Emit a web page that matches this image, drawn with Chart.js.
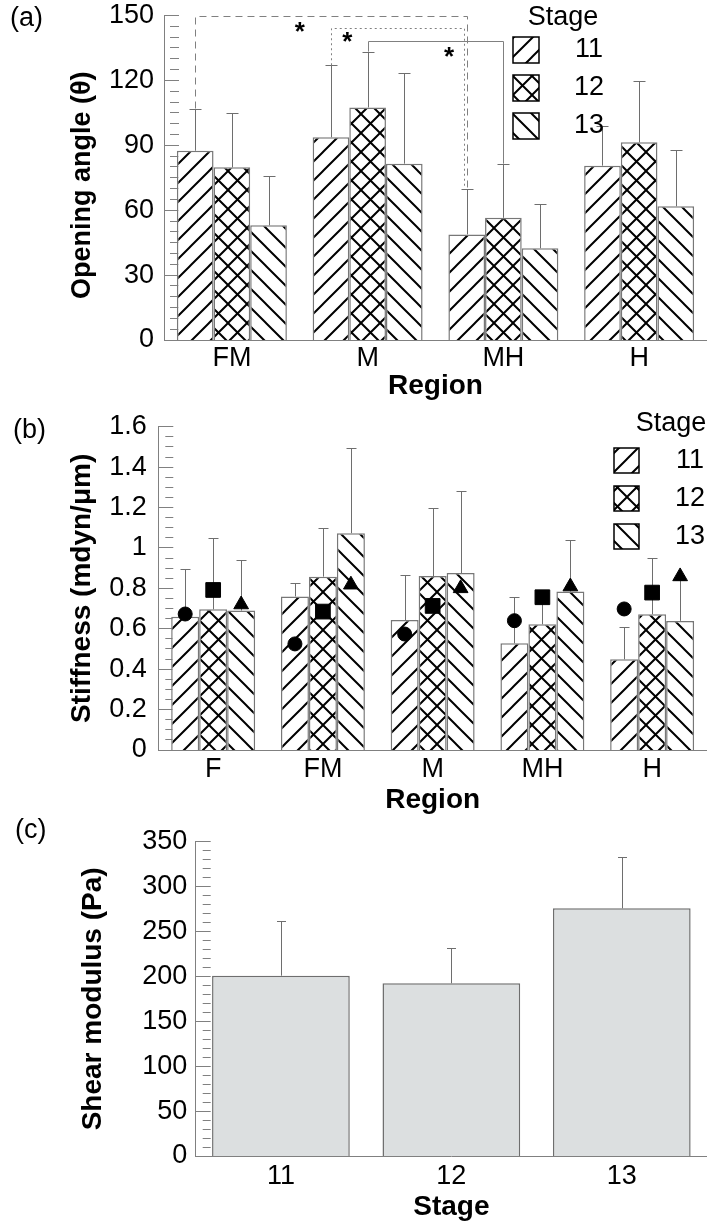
<!DOCTYPE html>
<html>
<head>
<meta charset="utf-8">
<script src="https://cdn.jsdelivr.net/npm/chart.js@4.4.1/dist/chart.umd.min.js"></script>
<style>
  html, body { margin: 0; padding: 0; background: #fff; }
  body { width: 707px; height: 1227px; position: relative; overflow: hidden; }
  canvas { position: absolute; left: 0; }
</style>
</head>
<body>
<canvas id="angle" width="707" height="402" style="top:0"></canvas>
<canvas id="stiffness" width="707" height="412" style="top:402px"></canvas>
<canvas id="shear" width="707" height="413" style="top:814px"></canvas>
<script>
const FONT = '"Liberation Sans", Arial, Helvetica, sans-serif';
const AXIS = '#808080';
const BAR_EDGE = '#777';

const stages = ['11', '12', '13'];

// (a) opening angle, mean and SD per region
const angleRegions = ['FM', 'M', 'MH', 'H'];
const angleMean11 = [87.5, 93.7, 48.8, 80.6];
const angleMean12 = [79.8, 107.5, 56.5, 91.4];
const angleMean13 = [53, 81.5, 42.4, 61.8];
const angleSd11 = [19.5, 33.3, 21.2, 18.4];
const angleSd12 = [25, 25.8, 25, 28.5];
const angleSd13 = [23, 41.9, 20.3, 26.2];

// (b) stiffness, mean and SD per region, plus the filled markers
const stiffRegions = ['F', 'FM', 'M', 'MH', 'H'];
const stiffMean11 = [0.66, 0.76, 0.643, 0.528, 0.449];
const stiffMean12 = [0.696, 0.858, 0.861, 0.622, 0.672];
const stiffMean13 = [0.69, 1.073, 0.876, 0.784, 0.639];
const stiffSd11 = [0.234, 0.068, 0.223, 0.231, 0.161];
const stiffSd12 = [0.352, 0.239, 0.335, 0.138, 0.277];
const stiffSd13 = [0.25, 0.42, 0.408, 0.257, 0.2];
const stiffMarker11 = [0.673, 0.525, 0.574, 0.64, 0.698];
const stiffMarker12 = [0.792, 0.685, 0.713, 0.756, 0.779];
const stiffMarker13 = [0.72, 0.818, 0.8, 0.809, 0.859];

// (c) shear modulus per stage
const shearMean = [200.8, 192.3, 275.8];
const shearSd = [61.2, 39, 56.8];

Chart.defaults.font.family = FONT;
Chart.defaults.color = '#000';
Chart.defaults.animation = false;
Chart.defaults.plugins.legend.display = false;
Chart.defaults.plugins.tooltip.enabled = false;

function hatch(ctx, kind) {
  const size = 19;
  const tile = document.createElement('canvas');
  tile.width = tile.height = size;
  const c = tile.getContext('2d');
  c.fillStyle = '#fff';
  c.fillRect(0, 0, size, size);
  c.strokeStyle = '#000';
  c.lineWidth = 2;
  c.beginPath();
  if (kind !== 'back') {
    c.moveTo(-2, size + 2); c.lineTo(size + 2, -2);
    c.moveTo(-2, 2); c.lineTo(2, -2);
    c.moveTo(size - 2, size + 2); c.lineTo(size + 2, size - 2);
  }
  if (kind !== 'fwd') {
    c.moveTo(-2, -2); c.lineTo(size + 2, size + 2);
    c.moveTo(-2, size - 2); c.lineTo(2, size + 2);
    c.moveTo(size - 2, -2); c.lineTo(size + 2, 2);
  }
  c.stroke();
  return ctx.createPattern(tile, 'repeat');
}

const errorBars = {
  id: 'errorBars',
  afterDatasetDraw(chart, args, opts) {
    const ds = chart.data.datasets[args.index];
    if (!ds.sd) return;
    const { ctx } = chart;
    const y = chart.scales.y;
    ctx.save();
    ctx.strokeStyle = opts.color;
    ctx.lineWidth = 1;
    args.meta.data.forEach((bar, i) => {
      const top = Math.round(y.getPixelForValue(ds.data[i] + ds.sd[i])) + 0.5;
      const x = Math.round(bar.x) + 0.5;
      ctx.beginPath();
      ctx.moveTo(x, bar.y);
      ctx.lineTo(x, top);
      ctx.moveTo(x - opts.cap / 2, top);
      ctx.lineTo(x + opts.cap / 2, top);
      ctx.stroke();
    });
    ctx.restore();
  }
};

// filled markers sitting on each bar's centre line
const barMarkers = {
  id: 'barMarkers',
  afterDatasetsDraw(chart) {
    const { ctx } = chart;
    const y = chart.scales.y;
    chart.data.datasets.forEach((ds, s) => {
      if (!ds.marker) return;
      const bars = chart.getDatasetMeta(s).data;
      ctx.save();
      ctx.fillStyle = '#000';
      ctx.strokeStyle = '#000';
      ds.marker.forEach((v, i) => {
        Chart.helpers.drawPoint(ctx, {
          pointStyle: ds.markerStyle,
          radius: ds.markerRadius,
          rotation: 0,
          borderWidth: 1
        }, bars[i].x, y.getPixelForValue(v));
      });
      ctx.restore();
    });
  }
};

const stageLegend = {
  id: 'stageLegend',
  afterDraw(chart, args, o) {
    if (!o.left) return;
    const { ctx } = chart;
    ctx.save();
    ctx.font = '27px ' + FONT;
    ctx.textAlign = 'center';
    ctx.textBaseline = 'middle';
    ctx.fillStyle = '#000';
    ctx.fillText('Stage', o.titleX, o.titleY);
    chart.data.datasets.forEach((ds, i) => {
      const top = o.top + i * o.step;
      ctx.fillStyle = ds.backgroundColor;
      ctx.fillRect(o.left, top, o.box, o.box);
      ctx.strokeStyle = '#000';
      ctx.lineWidth = 1.5;
      ctx.strokeRect(o.left, top, o.box, o.box);
      ctx.fillStyle = '#000';
      ctx.fillText(ds.label, o.labelX, top + o.box / 2);
    });
    ctx.restore();
  }
};

const panelTag = {
  id: 'panelTag',
  afterDraw(chart, args, o) {
    if (!o.text) return;
    const { ctx } = chart;
    ctx.save();
    ctx.font = '27px ' + FONT;
    ctx.fillStyle = '#000';
    ctx.textAlign = 'left';
    ctx.textBaseline = 'middle';
    ctx.fillText(o.text, o.x, o.y);
    ctx.restore();
  }
};

// labelled value axis plus an inner, label-less axis that only carries
// the inward major/minor tick marks
function valueAxes(o) {
  const isMajor = v => Math.abs(v / o.major - Math.round(v / o.major)) < 1e-6;
  return {
    y: {
      min: 0,
      max: o.max,
      weight: 2,
      border: { color: AXIS, width: 1 },
      grid: { display: false, drawTicks: false },
      ticks: {
        stepSize: o.major,
        padding: o.labelPad,
        font: { size: 27, lineHeight: 0.2 },
        callback: v => String(Math.round(v * 10) / 10)
      },
      title: {
        display: true,
        text: o.title,
        font: { size: o.titleSize, weight: 'bold', lineHeight: 1 },
        padding: { top: o.titlePad, bottom: 0 }
      },
      afterFit: s => { s.width = o.width; }
    },
    ym: {
      min: 0,
      max: o.max,
      weight: 1,
      border: { display: false },
      grid: {
        drawOnChartArea: false,
        tickLength: -o.majorLen,
        tickColor: AXIS,
        tickWidth: 1,
        tickBorderDash: c => (c.tick && isMajor(c.tick.value) ? [] : [o.minorLen, 200])
      },
      ticks: { display: false, stepSize: o.step, autoSkip: false },
      afterFit: s => { s.width = 0; }
    }
  };
}

function categoryAxis(title, labelPad, height) {
  return {
    border: { color: AXIS, width: 1 },
    grid: { display: false, drawTicks: false },
    ticks: { padding: labelPad, font: { size: 27, lineHeight: 1 } },
    title: {
      display: true,
      text: title,
      font: { size: 28, weight: 'bold', lineHeight: 1 },
      padding: 0
    },
    afterFit: s => { s.height = height; }
  };
}

// ---------- (a) ----------
const angleCanvas = document.getElementById('angle');
const angleCtx = angleCanvas.getContext('2d');

// significance brackets: [region, stage] of both ends, height of the bar
const angleBrackets = [
  { from: [0, 0], to: [2, 0], level: 150, dash: [7, 5], shift: 0 },
  { from: [1, 0], to: [2, 0], level: 144.4, dash: [2, 3], shift: -3 },
  { from: [1, 1], to: [2, 1], level: 138, dash: [], shift: 0 }
];
const angleStars = [
  { x: 0.5, y: 145.6 },
  { x: 0.85, y: 141 },
  { x: 1.6, y: 134 }
];

const brackets = {
  id: 'brackets',
  afterDatasetsDraw(chart) {
    const { ctx } = chart;
    const { x, y } = chart.scales;
    const top = (r, s) => {
      const ds = chart.data.datasets[s];
      return y.getPixelForValue(ds.data[r] + ds.sd[r]);
    };
    const barX = (r, s) => chart.getDatasetMeta(s).data[r].x;
    ctx.save();
    ctx.strokeStyle = AXIS;
    ctx.lineWidth = 1;
    angleBrackets.forEach(b => {
      const x1 = Math.round(barX(b.from[0], b.from[1])) + 0.5;
      const x2 = Math.round(barX(b.to[0], b.to[1]) + b.shift) + 0.5;
      const yl = Math.round(y.getPixelForValue(b.level)) + 0.5;
      ctx.setLineDash(b.dash);
      ctx.beginPath();
      ctx.moveTo(x1, top(b.from[0], b.from[1]));
      ctx.lineTo(x1, yl);
      ctx.lineTo(x2, yl);
      ctx.lineTo(x2, top(b.to[0], b.to[1]));
      ctx.stroke();
    });
    ctx.setLineDash([]);
    ctx.fillStyle = '#000';
    ctx.font = 'bold 26px ' + FONT;
    ctx.textAlign = 'center';
    ctx.textBaseline = 'alphabetic';
    angleStars.forEach(s => {
      ctx.fillText('*', x.getPixelForValue(s.x), y.getPixelForValue(s.y) + 15);
    });
    ctx.restore();
  }
};

new Chart(angleCanvas, {
  type: 'bar',
  data: {
    labels: angleRegions,
    datasets: [
      { label: stages[0], data: angleMean11, sd: angleSd11, backgroundColor: hatch(angleCtx, 'fwd') },
      { label: stages[1], data: angleMean12, sd: angleSd12, backgroundColor: hatch(angleCtx, 'cross') },
      { label: stages[2], data: angleMean13, sd: angleSd13, backgroundColor: hatch(angleCtx, 'back') }
    ]
  },
  options: {
    responsive: false,
    layout: { padding: { top: 15.5, bottom: 2, left: 0, right: 0 } },
    datasets: {
      bar: {
        categoryPercentage: 0.81,
        barPercentage: 1,
        borderColor: BAR_EDGE,
        borderWidth: 1.5
      }
    },
    scales: {
      x: categoryAxis('Region', 5.5, 60),
      ...valueAxes({
        max: 150, step: 5, major: 30, majorLen: 15, minorLen: 9,
        labelPad: 10, width: 164, titlePad: 69, titleSize: 27,
        title: 'Opening angle (θ)  '
      })
    },
    plugins: {
      errorBars: { color: '#6e6e6e', cap: 12 },
      stageLegend: { titleX: 563, titleY: 18, left: 513, top: 37, step: 38, box: 26, labelX: 589 },
      panelTag: { text: '(a)', x: 10, y: 19 }
    }
  },
  plugins: [errorBars, brackets, stageLegend, panelTag]
});

// ---------- (b) ----------
const stiffCanvas = document.getElementById('stiffness');
const stiffCtx = stiffCanvas.getContext('2d');

new Chart(stiffCanvas, {
  type: 'bar',
  data: {
    labels: stiffRegions,
    datasets: [
      {
        label: stages[0], data: stiffMean11, sd: stiffSd11, backgroundColor: hatch(stiffCtx, 'fwd'),
        marker: stiffMarker11, markerStyle: 'circle', markerRadius: 7
      },
      {
        label: stages[1], data: stiffMean12, sd: stiffSd12, backgroundColor: hatch(stiffCtx, 'cross'),
        marker: stiffMarker12, markerStyle: 'rect', markerRadius: 10.4
      },
      {
        label: stages[2], data: stiffMean13, sd: stiffSd13, backgroundColor: hatch(stiffCtx, 'back'),
        marker: stiffMarker13, markerStyle: 'triangle', markerRadius: 8.5
      }
    ]
  },
  options: {
    responsive: false,
    layout: { padding: { top: 24.7, bottom: 0, left: 0, right: 0 } },
    datasets: {
      bar: {
        categoryPercentage: 0.765,
        barPercentage: 1,
        borderColor: BAR_EDGE,
        borderWidth: 1.5
      }
    },
    scales: {
      x: categoryAxis('Region', 6.5, 64),
      ...valueAxes({
        max: 1.6, step: 0.05, major: 0.2, majorLen: 15, minorLen: 8,
        labelPad: 11.6, width: 158.3, titlePad: 68, titleSize: 28,
        title: 'Stiffness (mdyn/μm)'
      })
    },
    plugins: {
      errorBars: { color: '#6e6e6e', cap: 10 },
      stageLegend: { titleX: 671, titleY: 22, left: 614, top: 46, step: 38, box: 25, labelX: 690 },
      panelTag: { text: '(b)', x: 13, y: 29 }
    }
  },
  plugins: [errorBars, barMarkers, stageLegend, panelTag]
});

// ---------- (c) ----------
new Chart(document.getElementById('shear'), {
  type: 'bar',
  data: {
    labels: stages,
    datasets: [
      { label: 'Shear modulus', data: shearMean, sd: shearSd, backgroundColor: '#dcdfe0' }
    ]
  },
  options: {
    responsive: false,
    layout: { padding: { top: 27.7, bottom: 6, left: 0, right: 0 } },
    datasets: {
      bar: {
        categoryPercentage: 0.808,
        barPercentage: 1,
        borderColor: '#6e6e6e',
        borderWidth: 1.5
      }
    },
    scales: {
      x: categoryAxis('Stage', 7.2, 65),
      ...valueAxes({
        max: 350, step: 10, major: 50, majorLen: 15, minorLen: 8,
        labelPad: 8.4, width: 195.7, titlePad: 79.5, titleSize: 28,
        title: 'Shear modulus (Pa)'
      })
    },
    plugins: {
      errorBars: { color: '#6e6e6e', cap: 9 },
      panelTag: { text: '(c)', x: 15, y: 17 }
    }
  },
  plugins: [errorBars, panelTag]
});
</script>
</body>
</html>
